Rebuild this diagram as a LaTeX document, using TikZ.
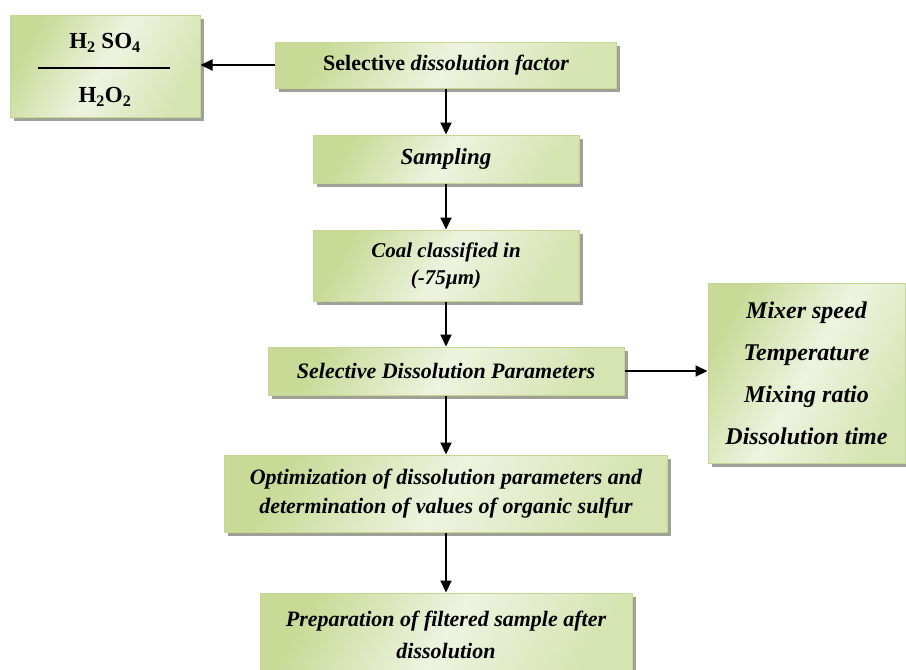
\documentclass[tikz,border=0pt]{standalone}
\usepackage{fontspec}
\setmainfont{Liberation Serif}
\usetikzlibrary{arrows.meta,shadows}
\definecolor{gborder}{RGB}{196,216,150}
\definecolor{gdark}{RGB}{200,218,150}
\definecolor{glight}{RGB}{238,243,224}
\definecolor{gmid}{RGB}{214,228,178}
\definecolor{gshadow}{RGB}{150,150,140}
\tikzset{
  box/.style={draw=gborder, line width=1pt, rectangle, inner sep=0pt,
    left color=gdark, right color=gmid, middle color=glight, shading angle=60,
    drop shadow={shadow xshift=3.5pt, shadow yshift=-3.5pt, fill=gshadow, opacity=0.9},
    align=center, font=\fontsize{22}{29}\selectfont\bfseries\itshape},
  arr/.style={line width=2pt, -{Triangle[length=12pt,width=11pt]}},
}
\begin{document}
\begin{tikzpicture}[x=1pt,y=-1pt]
\useasboundingbox (0,0) rectangle (906,670);
\node[box, minimum width=190pt, minimum height=102pt] (b1) at (105,66) {};
\node[font=\fontsize{23}{26}\selectfont\bfseries] (b1a) at (105,43) {H\textsubscript{2} SO\textsubscript{4}};
\node[font=\fontsize{23}{26}\selectfont\bfseries] (b1b) at (105,97) {H\textsubscript{2}O\textsubscript{2}};
\draw[line width=1.5pt] (38,68) -- (170,68);
\node[box, minimum width=341pt, minimum height=46pt] (b2) at (446,65) {\upshape Selective \itshape dissolution factor};
\node[box, minimum width=266pt, minimum height=48pt, font=\fontsize{23}{29}\selectfont\bfseries\itshape] (b3) at (446,159) {Sampling};
\node[box, minimum width=266pt, minimum height=71pt, font=\fontsize{21}{27}\selectfont\bfseries\itshape] (b4) at (446,265.5) {Coal classified in\\(-75\textmu m)};
\node[box, minimum width=356pt, minimum height=48pt] (b5) at (446,371) {Selective Dissolution Parameters};
\node[box, minimum width=197pt, minimum height=180pt, font=\fontsize{24}{42}\selectfont\bfseries\itshape] (b6) at (806.5,373) {Mixer speed\\Temperature\\Mixing ratio\\Dissolution time};
\node[box, minimum width=443pt, minimum height=77pt] (b7) at (446,493.5) {Optimization of dissolution parameters and\\determination of values of organic sulfur};
\node[box, minimum width=372pt, minimum height=84pt, font=\fontsize{22}{32}\selectfont\bfseries\itshape] (b8) at (446,635) {Preparation of filtered sample after\\dissolution};
\draw[arr] (b2.west) -- (b2.west -| b1.east);
\draw[arr] (b2.south) -- (b3.north);
\draw[arr] (b3.south) -- (b4.north);
\draw[arr] (b4.south) -- (b5.north);
\draw[arr] (b5.south) -- (b7.north);
\draw[arr] (b7.south) -- (b8.north);
\draw[arr] (b5.east) -- (b5.east -| b6.west);
\end{tikzpicture}
\end{document}
